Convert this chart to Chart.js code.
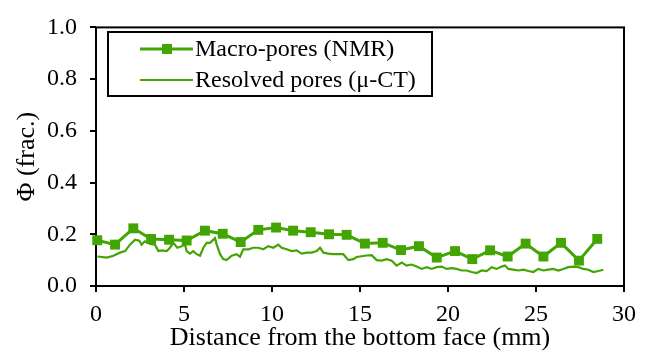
<!DOCTYPE html>
<html>
<head>
<meta charset="utf-8">
<script src="https://cdn.jsdelivr.net/npm/chart.js@4/dist/chart.umd.min.js"></script>
<style>
  html, body { margin: 0; padding: 0; background: #fff; }
  #wrap { width: 650px; height: 354px; position: relative; }
</style>
</head>
<body>
<div id="wrap"><canvas id="c"></canvas></div>
<script>
// ---- data ----
const seriesNames = ['Macro-pores (NMR)', 'Resolved pores (\u03bc-CT)'];
const xTitle = 'Distance from the bottom face (mm)';
const yTitle = '\u03a6 (frac.)';

const nmrX = [0.07, 1.08, 2.12, 3.13, 4.15, 5.15, 6.19, 7.2, 8.22, 9.22, 10.23, 11.2, 12.2, 13.24, 14.24,
  15.28, 16.29, 17.33, 18.35, 19.36, 20.4, 21.38, 22.39, 23.39, 24.41, 25.42, 26.42, 27.44, 28.48];
const nmrY = [0.177, 0.160, 0.223, 0.182, 0.179, 0.176, 0.214, 0.202, 0.170, 0.217, 0.226, 0.214, 0.208, 0.200, 0.198,
  0.164, 0.167, 0.139, 0.154, 0.110, 0.135, 0.104, 0.138, 0.114, 0.164, 0.114, 0.167, 0.098, 0.182];

const ctX = [0.08,0.61,0.99,1.36,1.65,1.93,2.22,2.46,2.59,2.78,3.07,3.35,3.54,3.73,4.02,4.20,4.39,4.62,4.87,5.06,
  5.15,5.34,5.53,5.72,5.91,6.10,6.29,6.48,6.76,6.86,7.05,7.23,7.42,7.71,7.99,8.18,8.37,8.66,8.94,9.22,
  9.51,9.79,10.08,10.36,10.55,10.83,11.12,11.40,11.69,11.97,12.25,12.54,12.73,12.92,13.20,13.48,13.77,14.05,14.34,14.62,
  14.81,15.09,15.38,15.66,15.95,16.23,16.52,16.80,17.08,17.37,17.65,17.93,18.22,18.50,18.79,19.07,19.36,19.64,19.92,20.21,
  20.49,20.78,21.06,21.34,21.63,21.91,22.20,22.48,22.76,23.05,23.24,23.43,23.71,24.00,24.28,24.57,24.85,25.13,25.42,25.70,
  25.99,26.27,26.55,26.84,27.12,27.41,27.69,27.98,28.26,28.54,28.83];
const ctY = [0.114,0.110,0.117,0.129,0.135,0.160,0.179,0.175,0.160,0.173,0.163,0.160,0.135,0.138,0.135,0.148,0.167,0.148,0.154,0.160,
  0.135,0.125,0.135,0.123,0.117,0.148,0.167,0.167,0.185,0.160,0.123,0.104,0.100,0.117,0.123,0.113,0.142,0.142,0.148,0.148,
  0.142,0.154,0.148,0.160,0.148,0.142,0.135,0.138,0.125,0.129,0.129,0.135,0.148,0.129,0.125,0.123,0.123,0.123,0.100,0.104,
  0.112,0.115,0.118,0.119,0.100,0.098,0.104,0.098,0.079,0.091,0.079,0.083,0.075,0.066,0.073,0.066,0.073,0.075,0.066,0.069,
  0.066,0.060,0.060,0.054,0.050,0.060,0.058,0.073,0.066,0.075,0.079,0.066,0.063,0.060,0.063,0.058,0.054,0.066,0.060,0.063,
  0.066,0.060,0.066,0.073,0.075,0.073,0.066,0.063,0.054,0.058,0.063];

const xMin = 0, xMax = 30, xStep = 5;
const yMin = 0, yMax = 1.0, yStep = 0.2;

// ---- styling ----
const GREEN = 'rgb(66,165,4)';
const FONT = "'Liberation Serif', 'Times New Roman', serif";

const toPts = (xs, ys) => xs.map((x, i) => ({ x: x, y: ys[i] }));

const frame = {
  id: 'frame',
  beforeDatasetsDraw(chart) {
    const { ctx, chartArea: a } = chart;
    ctx.save();
    ctx.strokeStyle = '#000';
    ctx.lineWidth = 2;
    ctx.strokeRect(a.left, a.top, a.right - a.left, a.bottom - a.top);
    ctx.restore();
  },
  afterDatasetsDraw(chart) {
    const { ctx } = chart;
    const bx = 108, by = 32, bw = 324, bh = 64;
    ctx.save();
    ctx.fillStyle = '#fff';
    ctx.fillRect(bx, by, bw, bh);
    ctx.strokeStyle = '#000';
    ctx.lineWidth = 2;
    ctx.strokeRect(bx, by, bw, bh);
    const rows = [49, 80];
    chart.data.datasets.forEach((ds, i) => {
      const y = rows[i];
      ctx.strokeStyle = ds.borderColor;
      ctx.lineWidth = ds.borderWidth;
      ctx.beginPath();
      ctx.moveTo(140, y);
      ctx.lineTo(193, y);
      ctx.stroke();
      if (ds.pointRadius > 0) {
        ctx.fillStyle = ds.backgroundColor;
        ctx.fillRect(162, y - 5, 10, 10);
      }
      ctx.fillStyle = '#000';
      ctx.font = '24px ' + FONT;
      ctx.textBaseline = 'middle';
      ctx.textAlign = 'left';
      ctx.fillText(ds.label, 195, y + 1);
    });
    ctx.restore();
  }
};

new Chart(document.getElementById('c'), {
  type: 'scatter',
  data: {
    datasets: [
      {
        label: seriesNames[0],
        data: toPts(nmrX, nmrY),
        showLine: true,
        borderColor: GREEN,
        backgroundColor: GREEN,
        borderWidth: 3,
        pointStyle: 'rect',
        pointRadius: 7,
        pointBorderWidth: 0,
        tension: 0,
        clip: false
      },
      {
        label: seriesNames[1],
        data: toPts(ctX, ctY),
        showLine: true,
        borderColor: GREEN,
        backgroundColor: GREEN,
        borderWidth: 2.2,
        pointRadius: 0,
        tension: 0,
        clip: false
      }
    ]
  },
  options: {
    responsive: true,
    maintainAspectRatio: false,
    animation: false,
    layout: { padding: { left: 0, right: 26, top: 20, bottom: 0 } },
    plugins: { legend: { display: false }, tooltip: { enabled: false } },
    scales: {
      x: {
        type: 'linear',
        min: xMin, max: xMax,
        afterFit(s) { s.height = 68; },
        ticks: { stepSize: xStep, color: '#000', font: { family: FONT, size: 24 }, padding: 8, maxRotation: 0 },
        grid: { drawOnChartArea: false, drawTicks: true, tickLength: 6, color: '#000', lineWidth: 2 },
        border: { display: false },
        title: { display: true, text: xTitle, color: '#000', font: { family: FONT, size: 26 }, padding: { top: 0, bottom: 0 } }
      },
      y: {
        type: 'linear',
        min: yMin, max: yMax,
        afterFit(s) { s.width = 96; },
        ticks: { stepSize: yStep, color: '#000', font: { family: FONT, size: 24 }, padding: 13,
          callback: v => Number(v).toFixed(1) },
        grid: { drawOnChartArea: false, drawTicks: true, tickLength: 6, color: '#000', lineWidth: 2 },
        border: { display: false },
        title: { display: true, text: yTitle, color: '#000', font: { family: FONT, size: 26 }, padding: { top: 12, bottom: 0 } }
      }
    }
  },
  plugins: [frame]
});
</script>
</body>
</html>
